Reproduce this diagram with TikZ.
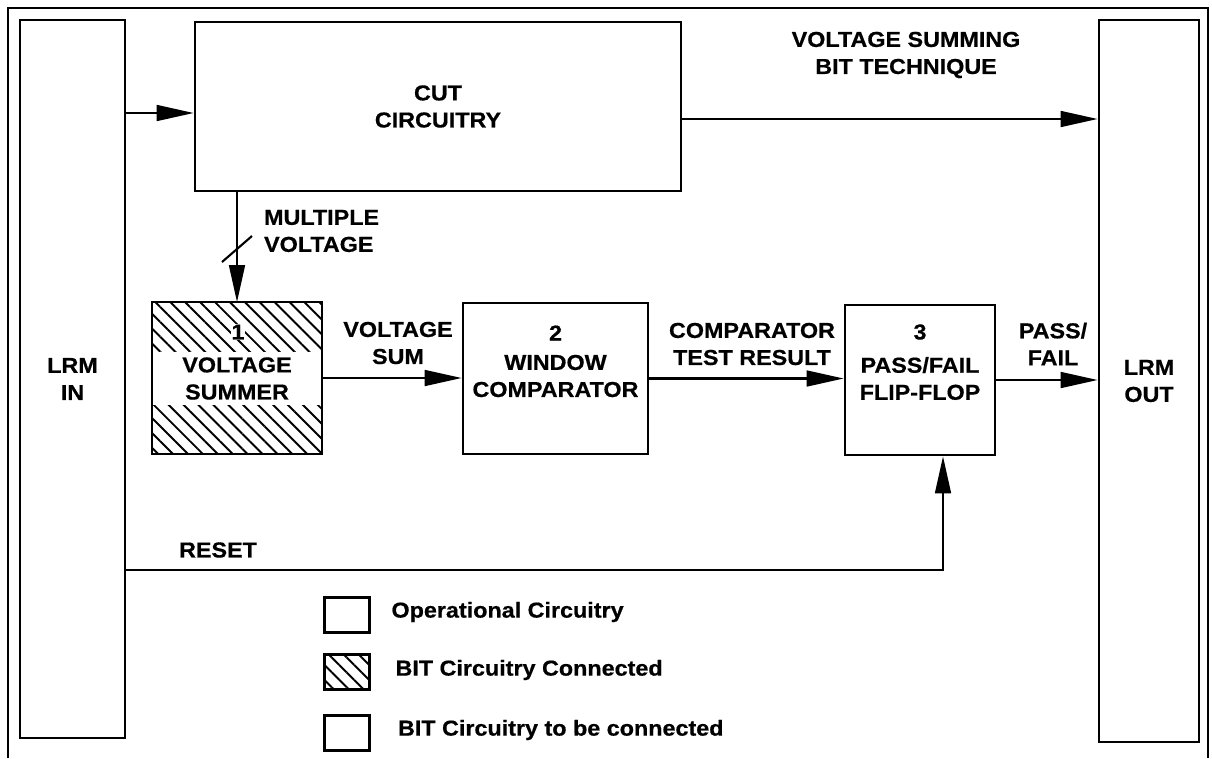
\documentclass[tikz,border=0pt]{standalone}
\usepackage{fontspec}
\setmainfont{Liberation Sans}[FakeStretch=1.08, BoldFeatures={FakeBold=0.6}]
\usepackage{tikz}
\usetikzlibrary{arrows.meta, positioning, calc, patterns.meta}

\begin{document}
\begin{tikzpicture}[
  x=0.02cm, y=-0.02cm,
  lbl/.style={align=center, font=\bfseries\fontsize{12.3}{15.4}\selectfont, inner sep=1pt},
  blk/.style={draw, line width=1.6pt, lbl},
  hatch/.style={pattern={Lines[angle=-45, distance=6pt, line width=1.1pt]}},
  arrowstyle/.style={-{Triangle[length=21pt, width=9pt]}, line width=1.2pt},
  ]
  \useasboundingbox (0,0) rectangle (1212,758);
  % outer frame
  \draw[line width=1pt] (8,758) -- (8,8) -- (1208,8) -- (1208,758);
  % LRM in / out
  \node[blk, minimum width=2.1cm, minimum height=14.36cm] (lrmin) at (72.5,379) {LRM\\IN};
  \node[blk, minimum width=2.0cm, minimum height=14.44cm] (lrmout) at (1149,381) {LRM\\OUT};
  % CUT
  \node[blk, minimum width=9.72cm, minimum height=3.38cm] (cut) at (438,106.5) {CUT\\CIRCUITRY};
  % Block 1 (hatched, border drawn on top of the white band)
  \node[hatch, inner sep=0pt, minimum width=3.36cm, minimum height=3cm] (sum) at (237,378) {};
  \node[lbl, fill=white, minimum width=3.44cm, minimum height=1.05cm] (sumtxt) at (237,378.5) {VOLTAGE\\SUMMER};
  \node[lbl, fill=white, inner sep=0.5pt] (sumnum) at (238,332) {1};
  \draw[line width=1.6pt] (sum.north west) rectangle (sum.south east);
  % Block 2
  \node[blk, minimum width=3.7cm, minimum height=3.02cm] (cmp) at (555.5,378.5) {};
  \node[lbl] (cmpnum) at (555.5,333) {2};
  \node[lbl] (cmptxt) at (555.5,376) {WINDOW\\COMPARATOR};
  % Block 3
  \node[blk, minimum width=3cm, minimum height=3cm] (ff) at (920,380) {};
  \node[lbl] (ffnum) at (920,332) {3};
  \node[lbl] (fftxt) at (920,378.5) {PASS/FAIL\\FLIP-FLOP};
  % Labels
  \node[lbl] (titlelbl) at (906,55) {VOLTAGE SUMMING\\BIT TECHNIQUE};
  \node[lbl, align=left, anchor=west] (multlbl) at (262,231) {MULTIPLE\\VOLTAGE};
  \node[lbl] (sumlbl) at (398,343) {VOLTAGE\\SUM};
  \node[lbl] (cmplbl) at (752,344) {COMPARATOR\\TEST RESULT};
  \node[lbl] (pflbl) at (1053,344) {PASS/\\FAIL};
  \node[lbl] (rstlbl) at (218,550) {RESET};
  % Arrows
  \coordinate (cutin) at ([yshift=-0.13cm]cut.west);
  \coordinate (cutout) at ([yshift=-0.25cm]cut.east);
  \draw[arrowstyle] (lrmin.east |- cutin) -- (cutin);
  \draw[arrowstyle] (cutout) -- (cutout -| lrmout.west);
  \draw[arrowstyle] (sum.north |- cut.south) -- (sum.north);
  \coordinate (bus) at (237,249);
  \draw[line width=1.2pt] ([shift={(-15,13)}]bus) -- ([shift={(15,-13)}]bus);
  \draw[arrowstyle] (sum.east) -- (sum.east -| cmp.west);
  \draw[arrowstyle] (cmp.east) -- (cmp.east -| ff.west);
  \draw[arrowstyle] (ff.east) -- (ff.east -| lrmout.west);
  \coordinate (rst) at ([xshift=0.46cm]ff.south);
  \coordinate (rstin) at ([yshift=-3.82cm]lrmin.east);
  \draw[arrowstyle] (rstin) -| (rst);
  % Legend
  \node[blk, minimum width=0.9cm, minimum height=0.7cm] (keyop) at (347,615) {};
  \node[blk, hatch, minimum width=0.9cm, minimum height=0.7cm] (keybit) at (347,672) {};
  \node[blk, minimum width=0.9cm, minimum height=0.7cm] (keytbc) at (347,733) {};
  \node[lbl, right=0.37cm of keyop, yshift=0.06cm] (keyoptxt) {Operational Circuitry};
  \node[lbl, right=0.45cm of keybit, yshift=0.04cm] (keybittxt) {BIT Circuitry Connected};
  \node[lbl, right=0.5cm of keytbc, yshift=0.06cm] (keytbctxt) {BIT Circuitry to be connected};
\end{tikzpicture}
\end{document}
